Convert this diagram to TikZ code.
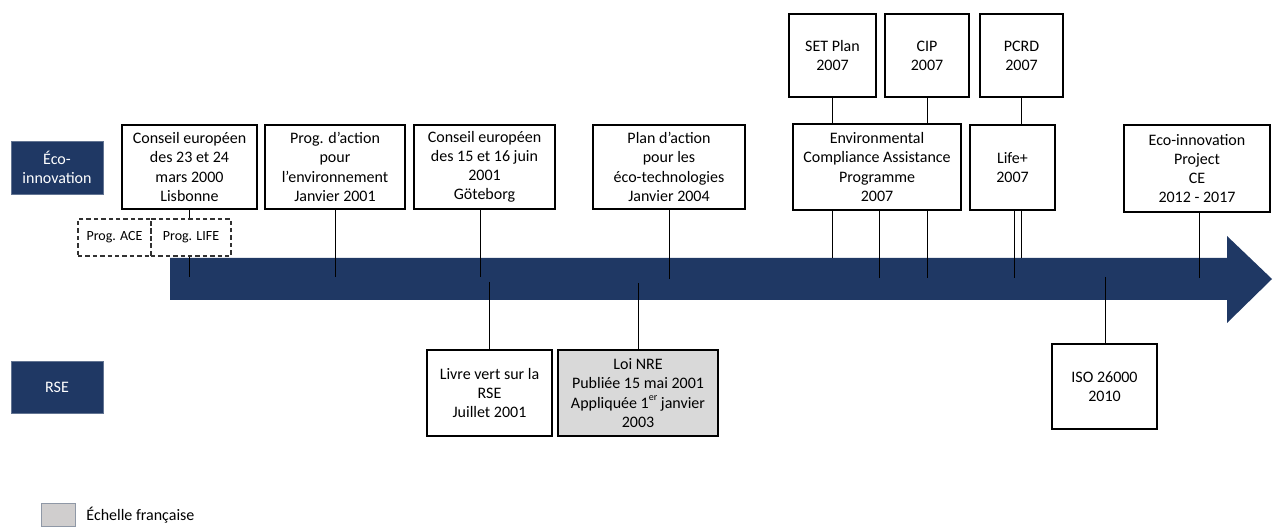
\documentclass[tikz,border=0pt]{standalone}
\usepackage{fontspec}
\setmainfont{Carlito}
\usepackage{xcolor}
\definecolor{navy}{RGB}{31,56,100}
\definecolor{nregray}{RGB}{217,217,217}
\definecolor{leggray}{RGB}{208,206,206}
\definecolor{legedge}{RGB}{68,84,106}
\definecolor{dashgray}{RGB}{50,50,50}

\begin{document}
\begin{tikzpicture}[x=0.5pt,y=0.5pt,yscale=-1,xscale=1,
  evtbox/.style={draw,line width=0.6pt,align=center,inner sep=1pt,font=\fontsize{8}{9.6}\selectfont},
  progbox/.style={evtbox,draw=dashgray,line width=0.6pt,dash pattern=on 2.2pt off 1.5pt},
  scalebox/.style={fill=navy,draw=navy!70,text=white,align=center,inner sep=1pt,font=\fontsize{8}{9.6}\selectfont},
  tick/.style={line width=0.5pt}]
\useasboundingbox (0,0) rectangle (1274,528);

%Timeline arrow
\fill [navy] (170,258) -- (1227,258) -- (1227,236) -- (1272,279) -- (1227,323) -- (1227,300) -- (170,300) -- cycle ;

% Scale labels
\node [scalebox,minimum width=46pt,minimum height=26.5pt] (eco) at (57,167.5) {Éco-\\innovation};
\node [scalebox,minimum width=46pt,minimum height=26pt] (rse) at (57,387) {RSE};

% Text Node
\node [evtbox,minimum width=67.5pt,minimum height=42pt] (lisbonne) at (189.5,167) {Conseil européen\\des 23 et 24\\mars 2000\\Lisbonne};
% Text Node
\node [evtbox,minimum width=70pt,minimum height=42pt] (progenv) at (335,167) {Prog. d’action\\pour\\l’environnement\\Janvier 2001};
% Text Node
\node [evtbox,minimum width=70.5pt,minimum height=42pt] (goteborg) at (484.5,167) {Conseil européen\\des 15 et 16 juin\\2001\\Göteborg};
% Text Node
\node [evtbox,minimum width=76pt,minimum height=42pt] (ecotech) at (669,167) {Plan d’action\\pour les\\éco-technologies\\Janvier 2004};
% Text Node
\node [evtbox,minimum width=84pt,minimum height=43pt] (ecap) at (877,167) {Environmental\\Compliance Assistance\\Programme\\2007};
% Text Node
\node [evtbox,minimum width=42.5pt,minimum height=42.5pt] (lifeplus) at (1012.5,167.5) {Life+\\2007};
% Text Node
\node [evtbox,minimum width=73pt,minimum height=43.5pt] (ecoproj) at (1197,168.5) {Eco-innovation\\Project\\CE\\2012 - 2017};
% Text Node
\node [evtbox,minimum width=43.5pt,minimum height=41.5pt] (setplan) at (832.5,55.5) {SET Plan\\2007};
% Text Node
\node [evtbox,minimum width=42pt,minimum height=41.5pt] (cip) at (927,55.5) {CIP\\2007};
% Text Node
\node [evtbox,minimum width=41.5pt,minimum height=41.5pt] (pcrd) at (1021.5,55.5) {PCRD\\2007};
% Text Node
\node [progbox,minimum width=36.5pt,minimum height=18.5pt] (ace) at (114.5,237.5) {\fontsize{7}{8}\selectfont Prog. ACE};
% Text Node
\node [progbox,minimum width=40pt,minimum height=18.5pt] (life) at (191,237.5) {\fontsize{7}{8}\selectfont Prog. LIFE};
% Text Node
\node [evtbox,minimum width=62.5pt,minimum height=43pt] (livrevert) at (489.5,393) {Livre vert sur la\\RSE\\Juillet 2001};
% Text Node
\node [evtbox,fill=nregray,minimum width=80pt,minimum height=43pt] (loinre) at (638,393) {Loi NRE\\Publiée 15 mai 2001\\Appliquée 1\raisebox{0.45em}{\fontsize{5}{5}\selectfont er} janvier\\2003};
% Text Node
\node [evtbox,minimum width=52.5pt,minimum height=42.5pt] (iso) at (1104.5,386.5) {ISO 26000\\2010};

% Legend
\node [fill=leggray,draw=legedge!60,line width=0.5pt,minimum width=17pt,minimum height=11.5pt,inner sep=0pt] (legend) at (58,515.5) {};
\node [anchor=west,inner sep=0pt,font=\fontsize{8}{9.6}\selectfont] (legtext) at (86,515.5) {Échelle française};

% Points on the arrow
\coordinate (tlife) at (189,277);
\coordinate (tprogenv) at (335,277);
\coordinate (tgot) at (480,277);
\coordinate (tplan) at (669,279);
\coordinate (tlivre) at (489,282);
\coordinate (tnre) at (638,283);
\coordinate (tset) at (832,258);
\coordinate (tecap) at (879,278);
\coordinate (tcip) at (927,278);
\coordinate (tlifep) at (1014,278);
\coordinate (tpcrd) at (1021,258);
\coordinate (tiso) at (1105,277);
\coordinate (tproj) at (1199,278);

%Straight Lines
\draw [tick] (lisbonne.south -| tlife) -- (life.north -| tlife) ;
\draw [tick] (life.south -| tlife) -- (tlife) ;
\draw [tick] (progenv.south -| tprogenv) -- (tprogenv) ;
\draw [tick] (goteborg.south -| tgot) -- (tgot) ;
\draw [tick] (ecotech.south -| tplan) -- (tplan) ;
\draw [tick] (tlivre) -- (livrevert.north -| tlivre) ;
\draw [tick] (tnre) -- (loinre.north -| tnre) ;
%Straight Lines
\draw [tick] (setplan.south -| tset) -- (ecap.north -| tset) ;
\draw [tick] (ecap.south -| tset) -- (tset) ;
\draw [tick] (ecap.south -| tecap) -- (tecap) ;
\draw [tick] (cip.south -| tcip) -- (ecap.north -| tcip) ;
\draw [tick] (ecap.south -| tcip) -- (tcip) ;
\draw [tick] (pcrd.south -| tpcrd) -- (lifeplus.north -| tpcrd) ;
\draw [tick] (lifeplus.south -| tpcrd) -- (tpcrd) ;
\draw [tick] (lifeplus.south -| tlifep) -- (tlifep) ;
\draw [tick] (tiso) -- (iso.north -| tiso) ;
\draw [tick] (ecoproj.south -| tproj) -- (tproj) ;

\end{tikzpicture}
\end{document}
